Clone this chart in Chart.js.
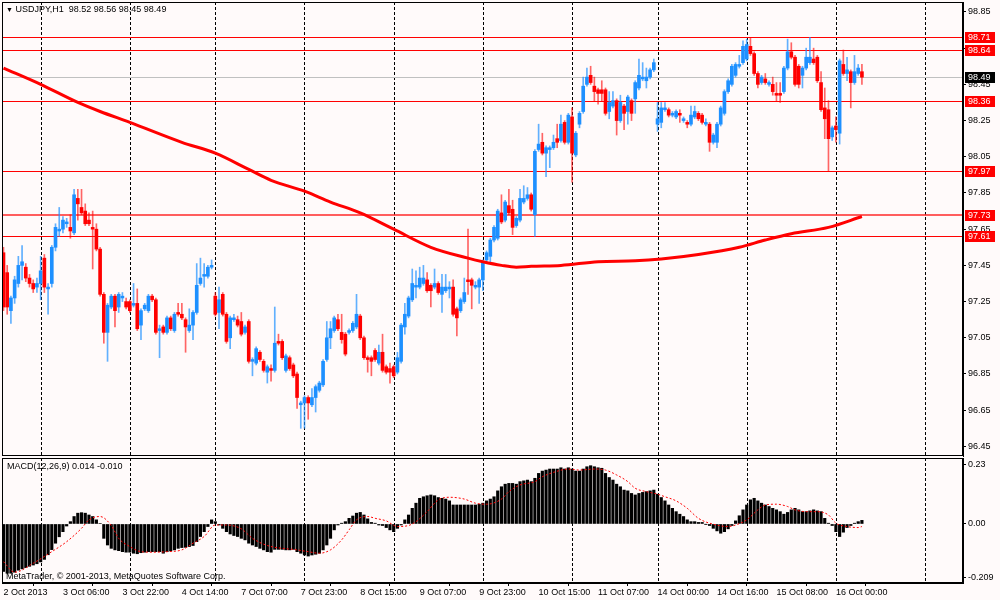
<!DOCTYPE html>
<html>
<head>
<meta charset="utf-8">
<script src="https://cdn.jsdelivr.net/npm/chart.js@4.4.1/dist/chart.umd.min.js"></script>
<style>
  html, body { margin: 0; padding: 0; background: #fffafa; }
  #wrap { position: relative; width: 1000px; height: 600px; overflow: hidden; font-family: "Liberation Sans", Arial, sans-serif; }
  canvas { position: absolute; left: 0; }
  #price { top: 0; }
  #macd { top: 457px; }
  .txt { position: absolute; font-size: 9px; line-height: 11px; color: #000; white-space: pre; }
</style>
</head>
<body>
<div id="wrap">
  <canvas id="price" width="1000" height="457"></canvas>
  <canvas id="macd" width="1000" height="143"></canvas>
  <div class="txt" style="left:6px;top:4px;"><span style="font-size:7px">▼</span> USDJPY,H1  98.52 98.56 98.45 98.49</div>
  <div class="txt" style="left:7px;top:461px;">MACD(12,26,9) 0.014 -0.010</div>
  <div class="txt" style="left:6px;top:571px;">MetaTrader, © 2001-2013, MetaQuotes Software Corp.</div>
</div>
<script>
// USDJPY H1, bar 0 = 2 Oct 2013 14:00, last bar = 16 Oct 07:00
const opens = [
  97.52, 97.41, 97.20, 97.27, 97.35, 97.45, 97.44, 97.38, 97.35, 97.33,
  97.35, 97.49, 97.32, 97.35, 97.55, 97.64, 97.65, 97.68, 97.66, 97.63,
  97.82, 97.77, 97.75, 97.70, 97.66, 97.65, 97.54, 97.29, 97.08, 97.22,
  97.28, 97.22, 97.27, 97.25, 97.25, 97.23, 97.24, 97.12, 97.21, 97.20,
  97.28, 97.26, 97.09, 97.11, 97.08, 97.16, 97.09, 97.19, 97.18, 97.15,
  97.09, 97.12, 97.19, 97.35, 97.39, 97.39, 97.44, 97.28, 97.19, 97.29,
  97.18, 97.05, 97.15, 97.15, 97.14, 97.08, 97.14, 96.92, 96.91, 96.97,
  96.92, 96.86, 96.88, 96.87, 97.03, 97.03, 96.87, 96.94, 96.90, 96.85,
  96.68, 96.69, 96.72, 96.68, 96.72, 96.76, 96.79, 96.93, 97.05, 97.09,
  97.15, 97.08, 97.07, 97.08, 97.09, 97.11, 97.17, 97.05, 96.94, 96.94,
  96.98, 96.91, 96.97, 96.89, 96.88, 96.89, 96.86, 96.92, 97.11, 97.17,
  97.26, 97.33, 97.33, 97.35, 97.37, 97.34, 97.33, 97.35, 97.29, 97.31,
  97.32, 97.33, 97.21, 97.20, 97.25, 97.37, 97.37, 97.33, 97.33, 97.37,
  97.48, 97.50, 97.59, 97.60, 97.74, 97.70, 97.78, 97.76, 97.67, 97.70,
  97.80, 97.82, 97.84, 97.73, 98.09, 98.13, 98.07, 98.09, 98.10, 98.15,
  98.14, 98.24, 98.13, 98.27, 98.06, 98.23, 98.30, 98.45, 98.50, 98.44,
  98.42, 98.42, 98.42, 98.30, 98.33, 98.36, 98.25, 98.33, 98.30, 98.36,
  98.37, 98.43, 98.48, 98.47, 98.49, 98.53, 98.23, 98.24, 98.31, 98.31,
  98.28, 98.27, 98.29, 98.25, 98.24, 98.23, 98.27, 98.29, 98.28, 98.23,
  98.23, 98.13, 98.13, 98.23, 98.29, 98.41, 98.45, 98.50, 98.55, 98.57,
  98.59, 98.66, 98.62, 98.51, 98.46, 98.48, 98.45, 98.45, 98.40, 98.40,
  98.41, 98.54, 98.63, 98.60, 98.55, 98.50, 98.54, 98.57, 98.59, 98.60,
  98.46, 98.32, 98.31, 98.16, 98.22, 98.18, 98.56, 98.51, 98.52, 98.46,
  98.51, 98.52
];
const highs = [
  97.55, 97.45, 97.28, 97.39, 97.50, 97.56, 97.46, 97.40, 97.37, 97.38,
  97.50, 97.51, 97.35, 97.56, 97.68, 97.77, 97.72, 97.71, 97.73, 97.87,
  97.87, 97.87, 97.79, 97.74, 97.75, 97.68, 97.55, 97.30, 97.24, 97.29,
  97.29, 97.30, 97.30, 97.27, 97.26, 97.35, 97.32, 97.21, 97.24, 97.29,
  97.29, 97.27, 97.12, 97.12, 97.17, 97.17, 97.19, 97.24, 97.24, 97.16,
  97.21, 97.20, 97.46, 97.49, 97.46, 97.45, 97.48, 97.30, 97.33, 97.30,
  97.19, 97.17, 97.18, 97.17, 97.19, 97.12, 97.15, 96.94, 97.00, 96.98,
  96.93, 96.90, 96.90, 97.22, 97.07, 97.04, 96.96, 96.95, 96.91, 96.86,
  96.70, 96.73, 96.73, 96.77, 96.79, 96.81, 96.93, 97.14, 97.14, 97.17,
  97.18, 97.18, 97.08, 97.10, 97.14, 97.29, 97.18, 97.06, 96.95, 96.95,
  96.99, 97.01, 97.07, 96.90, 96.91, 96.90, 96.97, 97.13, 97.24, 97.28,
  97.43, 97.42, 97.44, 97.45, 97.41, 97.35, 97.43, 97.36, 97.40, 97.40,
  97.36, 97.37, 97.22, 97.27, 97.38, 97.65, 97.38, 97.36, 97.38, 97.48,
  97.53, 97.60, 97.67, 97.76, 97.84, 97.81, 97.87, 97.81, 97.72, 97.87,
  97.89, 97.88, 97.85, 98.09, 98.23, 98.18, 98.11, 98.11, 98.17, 98.23,
  98.28, 98.25, 98.29, 98.32, 98.19, 98.30, 98.49, 98.54, 98.55, 98.49,
  98.43, 98.47, 98.43, 98.41, 98.41, 98.37, 98.39, 98.34, 98.39, 98.37,
  98.47, 98.59, 98.57, 98.54, 98.54, 98.59, 98.35, 98.35, 98.35, 98.32,
  98.30, 98.31, 98.31, 98.27, 98.25, 98.33, 98.33, 98.30, 98.29, 98.26,
  98.24, 98.18, 98.24, 98.33, 98.42, 98.48, 98.56, 98.57, 98.61, 98.69,
  98.70, 98.71, 98.63, 98.52, 98.50, 98.51, 98.47, 98.49, 98.46, 98.46,
  98.55, 98.70, 98.68, 98.61, 98.56, 98.55, 98.65, 98.71, 98.65, 98.61,
  98.52, 98.43, 98.36, 98.22, 98.27, 98.59, 98.64, 98.60, 98.53, 98.61,
  98.56, 98.56
];
const lows = [
  97.20, 97.18, 97.13, 97.24, 97.33, 97.37, 97.36, 97.33, 97.30, 97.30,
  97.26, 97.30, 97.18, 97.33, 97.53, 97.61, 97.63, 97.66, 97.60, 97.62,
  97.70, 97.73, 97.67, 97.67, 97.43, 97.53, 97.28, 97.02, 96.92, 97.21,
  97.11, 97.19, 97.25, 97.21, 97.19, 97.22, 97.09, 97.04, 97.20, 97.19,
  97.25, 97.07, 96.94, 97.07, 97.07, 97.09, 97.08, 97.17, 97.15, 96.97,
  97.08, 97.04, 97.18, 97.34, 97.33, 97.38, 97.43, 97.17, 97.10, 97.17,
  97.02, 96.99, 97.14, 97.11, 97.06, 97.07, 96.91, 96.84, 96.90, 96.92,
  96.86, 96.80, 96.81, 96.86, 97.01, 96.93, 96.86, 96.87, 96.83, 96.66,
  96.55, 96.55, 96.60, 96.67, 96.64, 96.75, 96.78, 96.92, 96.99, 97.08,
  97.09, 97.02, 96.95, 97.07, 97.08, 97.10, 97.04, 96.93, 96.86, 96.84,
  96.92, 96.90, 96.86, 96.85, 96.80, 96.83, 96.85, 96.91, 97.07, 97.16,
  97.25, 97.27, 97.32, 97.34, 97.30, 97.22, 97.32, 97.29, 97.19, 97.30,
  97.27, 97.17, 97.06, 97.19, 97.24, 97.29, 97.21, 97.32, 97.24, 97.31,
  97.47, 97.47, 97.58, 97.59, 97.68, 97.69, 97.73, 97.62, 97.66, 97.69,
  97.79, 97.81, 97.75, 97.61, 98.08, 98.06, 97.94, 97.99, 98.09, 98.10,
  98.13, 98.12, 98.12, 97.91, 98.05, 98.21, 98.29, 98.44, 98.45, 98.36,
  98.34, 98.36, 98.28, 98.26, 98.32, 98.17, 98.24, 98.20, 98.23, 98.25,
  98.29, 98.42, 98.47, 98.43, 98.48, 98.52, 98.19, 98.21, 98.30, 98.27,
  98.27, 98.26, 98.24, 98.24, 98.21, 98.22, 98.26, 98.25, 98.23, 98.22,
  98.08, 98.12, 98.10, 98.22, 98.28, 98.40, 98.44, 98.49, 98.54, 98.56,
  98.58, 98.61, 98.50, 98.43, 98.45, 98.45, 98.44, 98.39, 98.36, 98.35,
  98.40, 98.53, 98.59, 98.44, 98.43, 98.43, 98.53, 98.56, 98.56, 98.46,
  98.30, 98.15, 97.97, 98.14, 98.13, 98.12, 98.50, 98.47, 98.32, 98.45,
  98.50, 98.45
];
const closes = [
  97.22, 97.22, 97.27, 97.37, 97.45, 97.47, 97.38, 97.35, 97.32, 97.35,
  97.42, 97.33, 97.33, 97.55, 97.66, 97.65, 97.70, 97.69, 97.64, 97.84,
  97.79, 97.74, 97.68, 97.68, 97.65, 97.54, 97.29, 97.08, 97.23, 97.28,
  97.20, 97.29, 97.28, 97.22, 97.20, 97.24, 97.10, 97.20, 97.23, 97.28,
  97.26, 97.08, 97.10, 97.08, 97.16, 97.10, 97.18, 97.18, 97.16, 97.11,
  97.12, 97.19, 97.34, 97.38, 97.40, 97.44, 97.45, 97.18, 97.26, 97.18,
  97.03, 97.16, 97.16, 97.12, 97.07, 97.11, 96.92, 96.93, 96.99, 96.93,
  96.87, 96.89, 96.87, 97.02, 97.02, 96.94, 96.95, 96.88, 96.84, 96.72,
  96.69, 96.72, 96.69, 96.72, 96.78, 96.80, 96.92, 97.05, 97.10, 97.16,
  97.10, 97.04, 96.96, 97.09, 97.13, 97.18, 97.05, 96.94, 96.93, 96.92,
  96.93, 96.97, 96.87, 96.86, 96.86, 96.84, 96.94, 97.12, 97.18, 97.27,
  97.35, 97.34, 97.38, 97.38, 97.31, 97.31, 97.35, 97.30, 97.33, 97.33,
  97.33, 97.18, 97.16, 97.26, 97.30, 97.36, 97.34, 97.34, 97.37, 97.47,
  97.52, 97.59, 97.66, 97.75, 97.69, 97.80, 97.74, 97.66, 97.71, 97.82,
  97.82, 97.84, 97.76, 98.08, 98.12, 98.07, 98.10, 98.10, 98.13, 98.13,
  98.23, 98.13, 98.28, 98.07, 98.18, 98.29, 98.44, 98.49, 98.46, 98.41,
  98.40, 98.40, 98.29, 98.35, 98.36, 98.25, 98.35, 98.29, 98.38, 98.29,
  98.46, 98.50, 98.49, 98.49, 98.53, 98.57, 98.26, 98.32, 98.32, 98.28,
  98.29, 98.30, 98.28, 98.26, 98.23, 98.28, 98.30, 98.26, 98.24, 98.24,
  98.13, 98.17, 98.23, 98.32, 98.41, 98.47, 98.55, 98.56, 98.56, 98.66,
  98.67, 98.62, 98.51, 98.45, 98.49, 98.46, 98.46, 98.41, 98.39, 98.39,
  98.54, 98.63, 98.60, 98.45, 98.45, 98.54, 98.60, 98.60, 98.57, 98.47,
  98.31, 98.26, 98.15, 98.21, 98.20, 98.58, 98.51, 98.53, 98.46, 98.52,
  98.54, 98.49
];

// red moving average, read at a few bars
const maIdx = [0, 10, 20, 26, 34, 48, 57, 66, 72, 81, 88, 96, 105, 115, 125, 129, 134, 138, 142, 150, 160, 170, 177, 187, 198, 205, 212, 222, 231];
const maVal = [98.54, 98.45, 98.35, 98.30, 98.24, 98.13, 98.07, 97.98, 97.92, 97.86, 97.80, 97.74, 97.65, 97.55, 97.49, 97.47, 97.45, 97.44, 97.445, 97.45, 97.47, 97.475, 97.485, 97.51, 97.55, 97.59, 97.625, 97.66, 97.72];

// MACD(12,26,9) histogram, one value per bar
const macd = [
  -0.185, -0.192, -0.192, -0.188, -0.180, -0.175, -0.170, -0.165, -0.160, -0.155,
  -0.148, -0.138, -0.120, -0.100, -0.075, -0.050, -0.030, -0.008, 0.009, 0.029,
  0.042, 0.044, 0.042, 0.035, 0.029, 0.016, 0.002, -0.056, -0.082, -0.095,
  -0.101, -0.104, -0.108, -0.110, -0.110, -0.114, -0.116, -0.112, -0.110, -0.108,
  -0.108, -0.108, -0.108, -0.114, -0.108, -0.105, -0.101, -0.095, -0.092, -0.091,
  -0.088, -0.084, -0.069, -0.049, -0.030, -0.010, 0.016, 0.009, -0.004, -0.017,
  -0.030, -0.039, -0.045, -0.049, -0.056, -0.062, -0.075, -0.082, -0.088, -0.095,
  -0.101, -0.108, -0.110, -0.099, -0.099, -0.099, -0.101, -0.101, -0.099, -0.108,
  -0.114, -0.121, -0.125, -0.121, -0.118, -0.114, -0.101, -0.082, -0.056, -0.023,
  -0.004, 0.003, 0.009, 0.022, 0.031, 0.042, 0.045, 0.035, 0.020, 0.006,
  0.003, -0.004, -0.006, -0.014, -0.023, -0.030, -0.017, -0.004, 0.016, 0.035,
  0.061, 0.081, 0.100, 0.106, 0.110, 0.113, 0.110, 0.103, 0.100, 0.097,
  0.090, 0.074, 0.074, 0.074, 0.074, 0.074, 0.074, 0.074, 0.077, 0.081,
  0.090, 0.097, 0.106, 0.129, 0.145, 0.155, 0.158, 0.158, 0.155, 0.165,
  0.168, 0.171, 0.165, 0.178, 0.197, 0.206, 0.210, 0.214, 0.214, 0.214,
  0.219, 0.214, 0.219, 0.214, 0.206, 0.206, 0.214, 0.223, 0.227, 0.223,
  0.219, 0.217, 0.197, 0.181, 0.171, 0.155, 0.145, 0.132, 0.129, 0.119,
  0.113, 0.119, 0.123, 0.126, 0.129, 0.132, 0.116, 0.103, 0.090, 0.074,
  0.061, 0.048, 0.038, 0.029, 0.016, 0.009, 0.009, 0.006, 0.006, -0.001,
  -0.006, -0.017, -0.027, -0.036, -0.030, -0.019, -0.006, 0.012, 0.032, 0.055,
  0.074, 0.094, 0.100, 0.090, 0.081, 0.074, 0.068, 0.061, 0.055, 0.048,
  0.038, 0.045, 0.055, 0.061, 0.055, 0.048, 0.048, 0.051, 0.055, 0.051,
  0.048, 0.022, 0.003, -0.006, -0.030, -0.049, -0.032, -0.014, -0.006, 0.003,
  0.009, 0.014
];
// signal line, read at a few bars
const sigIdx = [0, 3, 8, 13, 17, 21, 23, 26, 29, 31, 34, 37, 40, 44, 48, 51, 54, 57, 60, 64, 67, 71, 75, 78, 82, 85, 88, 91, 93, 95, 98, 100, 103, 106, 109, 111, 114, 117, 120, 124, 127, 130, 134, 136, 139, 143, 145, 148, 152, 155, 159, 162, 165, 168, 170, 173, 176, 178, 181, 184, 187, 191, 195, 197, 200, 203, 205, 208, 211, 213, 216, 219, 222, 224, 227, 230, 231];
const sigVal = [-0.147, -0.188, -0.153, -0.108, -0.069, -0.017, 0.016, 0.029, -0.006, -0.056, -0.088, -0.108, -0.110, -0.108, -0.101, -0.075, -0.049, -0.004, -0.004, -0.019, -0.056, -0.084, -0.095, -0.099, -0.108, -0.114, -0.101, -0.062, -0.023, 0.016, 0.029, 0.022, 0.012, -0.010, -0.006, 0.009, 0.048, 0.094, 0.104, 0.097, 0.081, 0.077, 0.097, 0.126, 0.152, 0.165, 0.184, 0.201, 0.214, 0.210, 0.214, 0.210, 0.191, 0.165, 0.139, 0.126, 0.116, 0.106, 0.090, 0.061, 0.022, -0.001, -0.010, -0.004, 0.016, 0.055, 0.074, 0.077, 0.068, 0.055, 0.048, 0.048, 0.035, 0.003, -0.010, -0.014, -0.010];

// horizontal levels and current bid
const levelPrices = [98.71, 98.64, 98.36, 97.97, 97.73, 97.61];
const thickLevel = 97.73;
const bidPrice = 98.49;

// axis ticks
const priceTicks = [96.45, 96.65, 96.85, 97.05, 97.25, 97.45, 97.65, 97.85, 98.05, 98.25, 98.45, 98.65, 98.85];
const macdTicks = [-0.209, 0, 0.23];
const macdTickText = ['-0.209', '0.00', '0.23'];
const labelIdx = [0, 16, 32, 48, 64, 80, 96, 112, 128, 144, 160, 176, 192, 208, 224];
const labelText = ['2 Oct 2013', '3 Oct 06:00', '3 Oct 22:00', '4 Oct 14:00', '7 Oct 07:00', '7 Oct 23:00', '8 Oct 15:00', '9 Oct 07:00', '9 Oct 23:00', '10 Oct 15:00', '11 Oct 07:00', '14 Oct 00:00', '14 Oct 16:00', '15 Oct 08:00', '16 Oct 00:00'];
const dayIdx = [10, 34, 57, 81, 105, 129, 153, 176, 200, 224, 248];

const X_MIN = -0.4, X_MAX = 258.2;
const UP = '#1e90ff', DOWN = '#ff0000';
const FONT = { family: '"Liberation Sans", Arial, sans-serif', size: 9 };

Chart.defaults.font.family = FONT.family;
Chart.defaults.font.size = FONT.size;
Chart.defaults.color = '#000';

const bodies = opens.map((o, i) => ({ x: i, y: [o, closes[i]] }));
const wicks = opens.map((o, i) => ({
  x: i,
  y: [Math.min(lows[i], o, closes[i]), Math.max(highs[i], o, closes[i])]
}));
const bodyColors = opens.map((o, i) => closes[i] >= o ? UP : DOWN);
const wickColors = opens.map((o, i) => closes[i] >= o ? 'rgba(30,144,255,0.7)' : 'rgba(255,0,0,0.6)');

// frame round the plot area
const frame = {
  id: 'frame',
  afterDraw(chart) {
    const { ctx, chartArea: a } = chart;
    ctx.save();
    ctx.strokeStyle = '#000';
    ctx.lineWidth = 1;
    ctx.strokeRect(Math.round(a.left) + 0.5, Math.round(a.top) + 0.5,
      Math.round(a.right - a.left) - 1, Math.round(a.bottom - a.top) - 1);
    ctx.restore();
  }
};

// dotted separators at midnight
const dayLines = {
  id: 'dayLines',
  beforeDatasetsDraw(chart) {
    const { ctx, chartArea: a, scales: { x } } = chart;
    ctx.save();
    ctx.strokeStyle = '#000';
    ctx.lineWidth = 1;
    ctx.setLineDash([3, 2]);
    dayIdx.forEach(d => {
      const px = Math.round(x.getPixelForValue(d)) + 0.5;
      if (px < a.left || px > a.right) return;
      ctx.beginPath();
      ctx.moveTo(px, a.top);
      ctx.lineTo(px, a.bottom);
      ctx.stroke();
    });
    ctx.restore();
  }
};

// level lines with their price boxes on the axis
const levels = {
  id: 'levels',
  beforeDatasetsDraw(chart) {
    const { ctx, chartArea: a, scales: { y } } = chart;
    ctx.save();
    const hline = (p, color, w) => {
      const py = Math.round(y.getPixelForValue(p)) + (w % 2 ? 0.5 : 0);
      ctx.strokeStyle = color;
      ctx.lineWidth = w;
      ctx.beginPath();
      ctx.moveTo(a.left, py);
      ctx.lineTo(a.right, py);
      ctx.stroke();
    };
    hline(bidPrice, '#c0c0c0', 1);
    levelPrices.forEach(p => {
      if (p === thickLevel) hline(p, 'rgba(255,40,40,0.75)', 2);
      else hline(p, '#ff0000', 1);
    });
    ctx.restore();
  },
  afterDraw(chart) {
    const { ctx, chartArea: a, scales: { y } } = chart;
    ctx.save();
    ctx.font = '9px ' + FONT.family;
    ctx.textBaseline = 'middle';
    const box = (p, bg) => {
      const py = Math.round(y.getPixelForValue(p));
      ctx.fillStyle = bg;
      ctx.fillRect(a.right + 2, py - 5, 30, 11);
      ctx.fillStyle = '#fff';
      ctx.fillText(p.toFixed(2), a.right + 5, py + 0.5);
    };
    levelPrices.forEach(p => box(p, '#ff0000'));
    box(bidPrice, '#000');
    ctx.restore();
  }
};

new Chart(document.getElementById('price'), {
  type: 'bar',
  data: {
    datasets: [
      {
        type: 'line',
        data: maIdx.map((x, k) => ({ x, y: maVal[k] })),
        borderColor: '#ff0000',
        borderWidth: 3,
        pointRadius: 0,
        cubicInterpolationMode: 'monotone',
        order: 1
      },
      {
        data: bodies,
        backgroundColor: bodyColors,
        barThickness: 3,
        minBarLength: 1,
        grouped: false,
        order: 2
      },
      {
        data: wicks,
        backgroundColor: wickColors,
        barThickness: 1,
        grouped: false,
        order: 3
      }
    ]
  },
  options: {
    responsive: false,
    animation: false,
    events: [],
    layout: { padding: { left: 2, top: 2, right: 0, bottom: 1 } },
    plugins: { legend: { display: false }, tooltip: { enabled: false } },
    scales: {
      x: { type: 'linear', min: X_MIN, max: X_MAX, offset: false, display: false },
      y: {
        position: 'right',
        min: 96.397,
        max: 98.905,
        afterBuildTicks: s => { s.ticks = priceTicks.map(v => ({ value: v })); },
        afterFit: s => { s.width = 37; s.paddingTop = 0; s.paddingBottom = 0; },
        ticks: { autoSkip: false, padding: 2, color: '#000', callback: v => Number(v).toFixed(2) },
        grid: { drawOnChartArea: false, drawTicks: true, tickLength: 3, color: '#000' },
        border: { display: true, color: '#000' }
      }
    }
  },
  plugins: [dayLines, levels, frame]
});

new Chart(document.getElementById('macd'), {
  type: 'bar',
  data: {
    datasets: [
      {
        type: 'line',
        data: sigIdx.map((x, k) => ({ x, y: sigVal[k] })),
        borderColor: '#ff0000',
        borderWidth: 1,
        borderDash: [2, 2],
        pointRadius: 0,
        cubicInterpolationMode: 'monotone',
        order: 1
      },
      {
        data: macd.map((v, i) => ({ x: i, y: v })),
        backgroundColor: '#000',
        barThickness: 2.5,
        grouped: false,
        order: 2
      }
    ]
  },
  options: {
    responsive: false,
    animation: false,
    events: [],
    layout: { padding: { left: 2, top: 1, right: 0, bottom: 0 } },
    plugins: { legend: { display: false }, tooltip: { enabled: false } },
    scales: {
      x: {
        type: 'linear',
        min: X_MIN,
        max: X_MAX,
        offset: false,
        afterBuildTicks: s => { s.ticks = labelIdx.map(v => ({ value: v })); },
        afterFit: s => { s.height = 17; s.paddingLeft = 0; s.paddingRight = 0; },
        ticks: { autoSkip: false, maxRotation: 0, align: 'start', padding: 1, color: '#000', callback: (v, i) => labelText[i] },
        grid: { drawOnChartArea: false, drawTicks: true, tickLength: 3, color: '#000' },
        border: { display: true, color: '#000' }
      },
      y: {
        position: 'right',
        min: -0.230,
        max: 0.257,
        afterBuildTicks: s => { s.ticks = macdTicks.map(v => ({ value: v })); },
        afterFit: s => { s.width = 37; s.paddingTop = 0; s.paddingBottom = 0; },
        ticks: { autoSkip: false, padding: 2, color: '#000', callback: (v, i) => macdTickText[i] },
        grid: { drawOnChartArea: false, drawTicks: true, tickLength: 3, color: '#000' },
        border: { display: true, color: '#000' }
      }
    }
  },
  plugins: [dayLines, frame]
});
</script>
</body>
</html>
